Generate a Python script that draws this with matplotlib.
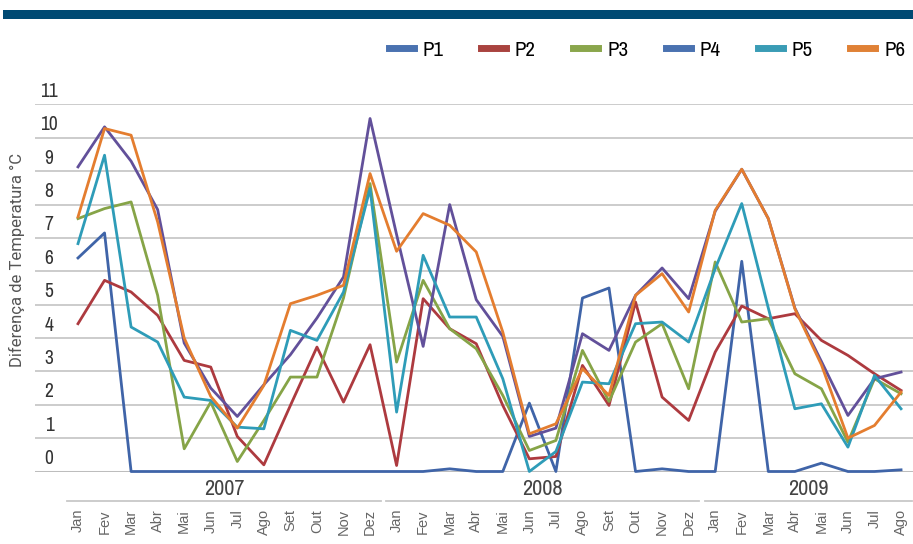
import matplotlib
matplotlib.use('Agg')
import matplotlib.pyplot as plt
import matplotlib.transforms as transforms
from matplotlib import font_manager
from matplotlib.lines import Line2D
from matplotlib.patches import Rectangle

meses = ['Jan', 'Fev', 'Mar', 'Abr', 'Mai', 'Jun', 'Jul', 'Ago', 'Set', 'Out', 'Nov', 'Dez']
anos = ['2007', '2008', '2009']
meses_por_ano = [12, 12, 8]
rotulos = meses * 2 + meses[:8]

series = ['P1', 'P2', 'P3', 'P4', 'P5', 'P6']
p1 = [6.4, 7.15, 0, 0, 0, 0, 0, 0, 0, 0, 0, 0,
      0, 0, 0.08, 0, 0, 2.05, 0, 5.2, 5.5, 0, 0.08, 0,
      0, 6.3, 0, 0, 0.25, 0, 0, 0.05]
p2 = [4.43, 5.73, 5.38, 4.68, 3.33, 3.13, 1.05, 0.2, 1.98, 3.73, 2.08, 3.8,
      0.18, 5.18, 4.28, 3.83, 1.98, 0.38, 0.45, 3.18, 1.98, 5.08, 2.23, 1.53,
      3.58, 4.96, 4.58, 4.73, 3.93, 3.48, 2.93, 2.43]
p3 = [7.58, 7.88, 8.08, 5.28, 0.68, 2.08, 0.3, 1.53, 2.83, 2.83, 5.2, 8.63,
      3.28, 5.73, 4.28, 3.68, 2.28, 0.63, 0.93, 3.63, 2.1, 3.88, 4.43, 2.48,
      6.28, 4.48, 4.58, 2.93, 2.48, 0.88, 2.78, 2.33]
p4 = [9.13, 10.33, 9.3, 7.85, 3.85, 2.5, 1.65, 2.6, 3.5, 4.6, 5.83, 10.58,
      7.1, 3.75, 8.0, 5.15, 4.05, 1.05, 1.3, 4.13, 3.63, 5.28, 6.1, 5.18,
      7.8, 9.06, 7.58, 4.9, 3.3, 1.68, 2.78, 2.98]
p5 = [6.83, 9.48, 4.33, 3.88, 2.23, 2.13, 1.33, 1.28, 4.23, 3.93, 5.38, 8.48,
      1.78, 6.48, 4.63, 4.63, 2.78, 0.0, 0.6, 2.68, 2.63, 4.43, 4.48, 3.88,
      6.08, 8.03, 4.9, 1.88, 2.03, 0.73, 2.88, 1.88]
p6 = [7.63, 10.28, 10.08, 7.48, 4.0, 2.25, 1.3, 2.58, 5.03, 5.28, 5.58, 8.93,
      6.6, 7.73, 7.38, 6.58, 4.18, 1.13, 1.43, 3.08, 2.28, 5.28, 5.93, 4.78,
      7.83, 9.06, 7.58, 4.88, 3.2, 1.0, 1.38, 2.38]
dados = [p1, p2, p3, p4, p5, p6]

cores = ['#3f64a8', '#ad3a3f', '#86a447', '#62509a', '#2e9cb8', '#e47d2f']
cores_legenda = ['#4a72b0', '#a9433f', '#8aa64c', '#4a72b0', '#3a9cb5', '#e08136']

# procura uma fonte estreita instalada (Narrow / Condensed)
fonte_estreita = None
for f in font_manager.fontManager.ttflist:
    nome = f.name
    if ('Narrow' in nome or 'Condensed' in nome) and f.weight in (400, 'normal', 'regular'):
        fonte_estreita = {'family': nome}
        break
if fonte_estreita is None:
    cond = [f for f in font_manager.fontManager.ttflist
            if f.stretch in ('condensed', 'semi-condensed', 'extra-condensed', 300)
            and f.style == 'normal' and f.weight in (400, 'normal', 'regular')]
    if cond:
        fonte_estreita = {'family': cond[0].name, 'stretch': cond[0].stretch}
    else:
        fonte_estreita = {'family': 'DejaVu Sans', 'stretch': 'condensed'}

fig = plt.figure(figsize=(9.13, 5.44), dpi=100)
W, H = 913, 544

# faixa escura no topo
fig.add_artist(Rectangle((3 / W, 1 - 19 / H), 1, 9 / H, transform=fig.transFigure,
                         facecolor='#004a73', edgecolor='none'))

ax = fig.add_axes([35 / W, 1 - 471.5 / H, 878 / W, 367 / H])
x = list(range(len(rotulos)))
for nome, y, c in zip(series, dados, cores):
    ax.plot(x, y, color=c, linewidth=2.0, label=nome, clip_on=False, zorder=3)

ax.set_ylim(0, 11)
ax.set_xlim((35 - 78) / 26.55, (913 - 78) / 26.55)
ax.set_yticks(range(12))
ax.yaxis.grid(True, color='#c8c8c8', linewidth=1.3)
ax.axhline(0, color='#bdbdbd', linewidth=2.2, zorder=2)
ax.tick_params(axis='y', length=0, labelleft=False)
for s in ax.spines.values():
    s.set_visible(False)

# rótulos do eixo y, um pouco acima de cada linha de grade
trans_y = transforms.blended_transform_factory(fig.transFigure, ax.transData) + \
    transforms.ScaledTranslation(0, 13 / 100, fig.dpi_scale_trans)
for v in range(12):
    ax.text(49 / W, v, str(v), transform=trans_y, ha='center', va='center',
            fontsize=14, color='#333333', **fonte_estreita)

fig.text(17 / W, 1 - 260 / H, 'Diferença de Temperatura °C', rotation=90,
         ha='center', va='center', fontsize=12, color='#555555', family='Roboto')

# meses
ax.set_xticks(x)
ax.set_xticklabels(rotulos, rotation=90, fontsize=10.5, color='#666666', family='Liberation Sans')
ax.tick_params(axis='x', length=0, pad=27)
for lab in ax.get_xticklabels():
    lab.set_va('top')

# anos com linha de agrupamento
trans_x = transforms.blended_transform_factory(ax.transData, fig.transFigure)
inicio = 0
for ano, n in zip(anos, meses_por_ano):
    a, b = inicio - 0.5 + 0.1, inicio + n - 0.5 - 0.1
    fig.add_artist(Line2D([a, b], [1 - 501 / H] * 2, transform=trans_x,
                          color='#c8c8c8', linewidth=1.3))
    ax.text((a + b) / 2, 1 - 489 / H, ano, transform=trans_x, ha='center', va='center',
            fontsize=16, color='#444444', **fonte_estreita)
    inicio += n

handles = [Line2D([], [], color=c, linewidth=5) for c in cores_legenda]
fig.legend(handles, series, loc='center left', bbox_to_anchor=(389 / W, 1 - 50 / H),
           ncol=6, frameon=False, handlelength=1.2, handletextpad=0.42,
           columnspacing=1.8, borderaxespad=0, borderpad=0,
           prop=dict(size=15, **fonte_estreita))

fig.savefig('out.png', dpi=100)
